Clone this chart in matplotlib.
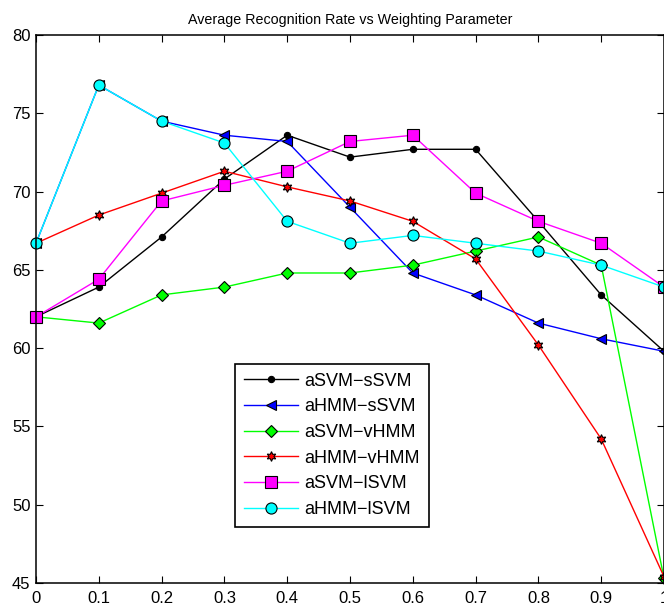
import matplotlib.pyplot as plt
import numpy as np

plt.rcParams['font.family'] = ['Liberation Sans', 'DejaVu Sans']

x = np.round(np.arange(0, 1.01, 0.1), 1)

asvm_ssvm = [62.0, 63.9, 67.1, 70.8, 73.6, 72.2, 72.7, 72.7, 68.1, 63.4, 59.8]
ahmm_ssvm = [66.7, 76.8, 74.5, 73.6, 73.2, 69.0, 64.8, 63.4, 61.6, 60.6, 59.8]
asvm_vhmm = [62.0, 61.6, 63.4, 63.9, 64.8, 64.8, 65.3, 66.2, 67.1, 65.3, 45.3]
ahmm_vhmm = [66.7, 68.5, 69.9, 71.3, 70.3, 69.4, 68.1, 65.7, 60.2, 54.2, 45.4]
asvm_lsvm = [62.0, 64.4, 69.4, 70.4, 71.3, 73.2, 73.6, 69.9, 68.1, 66.7, 63.9]
ahmm_lsvm = [66.7, 76.8, 74.5, 73.1, 68.1, 66.7, 67.2, 66.7, 66.2, 65.3, 63.9]

names = ['aSVM\u2212sSVM', 'aHMM\u2212sSVM', 'aSVM\u2212vHMM',
         'aHMM\u2212vHMM', 'aSVM\u2212lSVM', 'aHMM\u2212lSVM']
series = [asvm_ssvm, ahmm_ssvm, asvm_vhmm, ahmm_vhmm, asvm_lsvm, ahmm_lsvm]
colors = ['#000000', '#0000ff', '#00ff00', '#ff0000', '#ff00ff', '#00ffff']
markers = ['.', '<', 'D', (6, 1, 0), 's', 'o']
msizes = [9, 7, 6, 7, 8, 8]

fig = plt.figure(figsize=(6.64, 6.08), dpi=100)
ax = fig.add_axes([36 / 664, 25 / 608, 628 / 664, 548 / 608])

for ys, name, c, m, ms in zip(series, names, colors, markers, msizes):
    ax.plot(x, ys, color=c, lw=1, marker=m, ms=ms, mfc=c, mec='k',
            mew=0.8, label=name, clip_on=False)

ax.set_xlim(0, 1)
ax.set_ylim(45, 80)
ax.set_xticks(x)
ax.set_xticklabels(['0'] + ['%.1f' % v for v in x[1:-1]] + ['1'])
ax.set_yticks(np.arange(45, 81, 5))
ax.tick_params(direction='in', top=True, right=True, length=5, width=0.8,
               labelsize=12)
ax.tick_params(axis='x', pad=6)
ax.tick_params(axis='y', pad=4)
for s in ax.spines.values():
    s.set_linewidth(1.1)

ax.set_title('Average Recognition Rate vs Weighting Parameter', fontsize=10.3, pad=8)

leg = ax.legend(loc='lower left', bbox_to_anchor=(0.317, 0.102), fontsize=13,
                fancybox=False, edgecolor='k', framealpha=1, handlelength=3.0,
                handletextpad=0.35, borderpad=0.5, labelspacing=0.48,
                borderaxespad=0)
leg.get_frame().set_linewidth(1.2)

fig.savefig('out.png', dpi=100)
